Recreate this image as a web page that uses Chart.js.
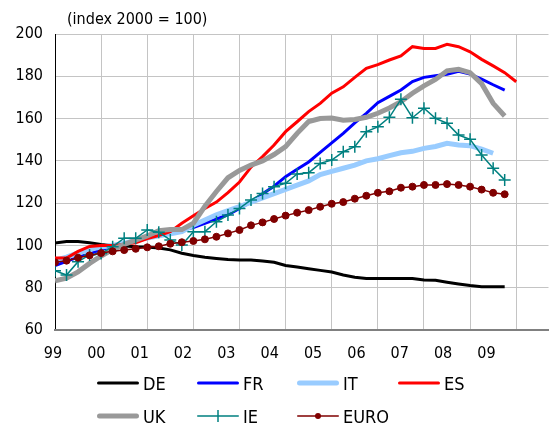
<!DOCTYPE html>
<html>
<head>
<meta charset="utf-8">
<script src="https://cdn.jsdelivr.net/npm/chart.js@4.4.1/dist/chart.umd.min.js"></script>
<style>
    body { margin: 0; background: #fff; }
    #wrap { position: relative; width: 556px; height: 428px; }
    #legend { position: absolute; left: 0; top: 0; width: 556px; height: 428px; pointer-events: none;
              font-family: "DejaVu Sans Condensed", "DejaVu Sans", sans-serif; font-size: 18px; color: #000; }
    .lg-item { position: absolute; display: flex; align-items: center; height: 20px; }
    .lg-item span { margin-left: 4px; }
</style>
</head>
<body>
<div id="wrap">
    <canvas id="chart" width="556" height="428"></canvas>
    <div id="legend"></div>
</div>
<script>
/* Price index chart, quarterly 1999Q1 onwards (index 2000 = 100) */
var titleText = "(index 2000 = 100)";
var yearLabels = ["99", "00", "01", "02", "03", "04", "05", "06", "07", "08", "09"];

var DE = [101.2, 101.8, 101.8, 101.3, 100.5, 99.9, 99.7, 99.4, 99.3, 98.8, 97.9, 96.3, 95.2, 94.4, 93.8, 93.3,
    93.1, 93.1, 92.6, 92.0, 90.5, 89.8, 89.0, 88.2, 87.4, 86.0, 85.0, 84.4, 84.4, 84.4, 84.4, 84.4,
    83.6, 83.5, 82.6, 81.8, 81.0, 80.5, 80.5, 80.5];
var FR = [90.5, 92.5, 94.5, 96, 98, 99.5, 101, 102.5, 104, 105.5, 106.5, 107.5, 108.5, 110.5, 112.5, 114.5,
    117.5, 120.5, 124.5, 128, 132.5, 136, 139.5, 144, 148.5, 153, 158, 162.5, 167.5, 170.5, 173.5, 177.5,
    179.5, 180.3, 181, 182.4, 181, 178.7, 176, 173.5];
var IT = [93, 94.5, 96.5, 98, 99.3, 100, 101, 102.5, 103.5, 104.5, 105.5, 106.5, 109.5, 112, 114.5, 116.5,
    118.3, 120.5, 122.5, 124.5, 126.5, 128.5, 130.5, 133.5, 135, 136.5, 138, 140, 141, 142.5, 143.8, 144.5,
    145.9, 146.8, 148.3, 147.5, 147.2, 145.5, 143.6];
var ES = [94, 94, 97.2, 99.5, 100, 100, 100.5, 101.3, 103.2, 104.7, 106.5, 110.5, 114, 117.5, 120.5, 125,
    130, 137, 142, 147.5, 153.8, 158.5, 163.3, 167.2, 172, 175, 179.5, 183.8, 185.5, 187.7, 189.6, 194,
    193.2, 193.2, 195.1, 194, 191.6, 188, 184.9, 181.7, 177.4];
var UK = [83.3, 84.5, 87.5, 91.5, 95, 98, 100.5, 102.5, 104.5, 107, 107.5, 107.5, 110.5, 118.5, 125.5, 132,
    135.5, 138, 140, 143, 146.7, 153, 158.6, 160, 160.3, 159.2, 159.6, 160.6, 162.5, 165, 168, 172,
    175.5, 178.5, 182.6, 183.3, 181.7, 176.5, 167.2, 161.2];
var IE = [88.0, 86.0, 92.3, 95.5, 96.2, 99.4, 103.4, 103.4, 107.3, 106.2, 102.6, 100.2, 106.5, 106.5, 111.2, 114.4,
    117.5, 121.5, 124.6, 127.8, 129.4, 133.8, 134.4, 138.8, 140.4, 144.3, 146.7, 153.8, 156.1, 160.6, 169.1, 160.4,
    164.9, 160.1, 157.8, 152.2, 150.2, 142.8, 136.5, 131.0];
var EURO = [92.0, 92.8, 94.2, 95.3, 96.4, 97.2, 97.8, 98.4, 99.1, 99.6, 100.8, 101.5, 102.1, 102.9, 104.1, 105.7,
    107.3, 109.5, 110.9, 112.5, 114.1, 115.5, 116.7, 118.3, 119.7, 120.5, 122.1, 123.5, 124.9, 125.6, 127.3, 127.8,
    128.6, 128.6, 129.0, 128.6, 127.8, 126.4, 124.9, 124.2];

var FONT = '"DejaVu Sans Condensed", "DejaVu Sans", sans-serif';

/* quarter index -> years since 1999 */
function toPoints(arr) {
    return arr.map(function (v, i) { return { x: i / 4, y: v }; });
}

var series = [
    { label: "DE", data: DE, color: "#000000", width: 3 },
    { label: "FR", data: FR, color: "#0000ff", width: 3 },
    { label: "IT", data: IT, color: "#99ccff", width: 5 },
    { label: "ES", data: ES, color: "#ff0000", width: 3 },
    { label: "UK", data: UK, color: "#999999", width: 5 },
    { label: "IE", data: IE, color: "#008080", width: 1.5, marker: "cross" },
    { label: "EURO", data: EURO, color: "#800000", width: 1.5, marker: "circle" }
];

var datasets = series.map(function (s, i) {
    return {
        label: s.label,
        data: toPoints(s.data),
        borderColor: s.color,
        backgroundColor: s.color,
        borderWidth: s.width,
        tension: 0,
        fill: false,
        order: series.length - 1 - i,   /* later series on top */
        pointStyle: s.marker || "circle",
        pointRadius: s.marker === "cross" ? 6 : (s.marker ? 3.5 : 0),
        pointBorderWidth: s.marker === "cross" ? 1.5 : 1,
        pointBorderColor: s.color,
        pointBackgroundColor: s.color
    };
});

var titlePlugin = {
    id: "topTitle",
    afterDraw: function (chart) {
        var ctx = chart.ctx;
        ctx.save();
        ctx.font = "16px " + FONT;
        ctx.fillStyle = "#000";
        ctx.textBaseline = "middle";
        ctx.fillText(titleText, 67, 20);
        ctx.restore();
    }
};

Chart.defaults.font.family = FONT;
Chart.defaults.font.size = 16;
Chart.defaults.color = "#000";

new Chart(document.getElementById("chart").getContext("2d"), {
    type: "line",
    data: { datasets: datasets },
    plugins: [titlePlugin],
    options: {
        responsive: false,
        animation: false,
        layout: { padding: { top: 34, right: 0, bottom: 58, left: 0 } },
        plugins: { legend: { display: false }, tooltip: { enabled: false } },
        scales: {
            y: {
                min: 60, max: 200,
                ticks: { stepSize: 20, padding: 12 },
                grid: { color: "#c4c4c4", drawTicks: false },
                border: { color: "#000", width: 1 },
                afterFit: function (s) { s.width = 55; }
            },
            x: {
                type: "linear", position: "bottom", weight: 0,
                min: 0, max: 10.7,
                ticks: { display: false },
                grid: { color: "#c4c4c4", drawTicks: false },
                border: { color: "#808080", width: 2 },
                afterBuildTicks: function (s) {
                    s.ticks = yearLabels.map(function (_, k) { return { value: k }; });
                }
            },
            xl: {
                type: "linear", position: "bottom", weight: 1,
                min: 0, max: 501 / 44,
                grid: { display: false, drawTicks: false },
                border: { display: false },
                ticks: {
                    autoSkip: false, maxRotation: 0, padding: 14, labelOffset: -2,
                    callback: function (v, i) { return yearLabels[i]; }
                },
                afterBuildTicks: function (s) {
                    s.ticks = yearLabels.map(function (_, k) { return { value: k }; });
                },
                afterFit: function (s) { s.height = 40; }
            }
        }
    }
});

/* Legend: 4 columns, 2 rows */
var legendEl = document.getElementById("legend");
var colX = [97, 197, 297, 398];
var rowY = [383, 416];
series.forEach(function (s, i) {
    var item = document.createElement("div");
    item.className = "lg-item";
    item.style.left = colX[i % 4] + "px";
    item.style.top = (rowY[Math.floor(i / 4)] - 10) + "px";
    var svg = '<svg width="42" height="14" viewBox="0 0 42 14">' +
        '<line x1="' + (s.width / 2) + '" y1="7" x2="' + (42 - s.width / 2) + '" y2="7" stroke="' + s.color +
        '" stroke-width="' + s.width + '" stroke-linecap="round"/>';
    if (s.marker === "cross") {
        svg += '<line x1="21" y1="1" x2="21" y2="13" stroke="' + s.color + '" stroke-width="1.5"/>';
    } else if (s.marker === "circle") {
        svg += '<circle cx="21" cy="7" r="3" fill="' + s.color + '"/>';
    }
    svg += "</svg>";
    item.innerHTML = svg + "<span>" + s.label + "</span>";
    legendEl.appendChild(item);
});
</script>
</body>
</html>
